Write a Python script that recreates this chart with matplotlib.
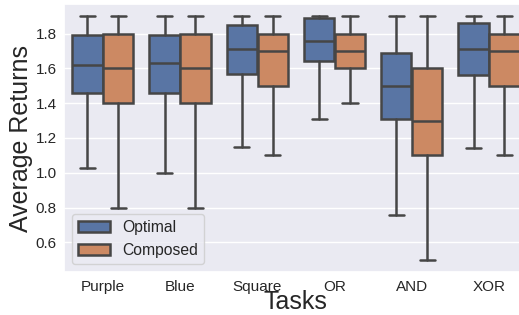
"""Box plot of average returns per task: optimal vs composed policies."""
import matplotlib

matplotlib.use("Agg")
import matplotlib.patches as mpatches  # noqa: E402
import matplotlib.pyplot as plt  # noqa: E402
import numpy as np  # noqa: E402
import seaborn as sns  # noqa: E402

tasks = ["Purple", "Blue", "Square", "OR", "AND", "XOR"]
methods = ["Optimal", "Composed"]

# box statistics (per task)
opt_lo = [1.03, 1.00, 1.15, 1.31, 0.76, 1.14]
opt_q1 = [1.46, 1.46, 1.57, 1.64, 1.31, 1.56]
opt_med = [1.62, 1.63, 1.71, 1.76, 1.50, 1.71]
opt_q3 = [1.79, 1.79, 1.85, 1.89, 1.69, 1.86]
opt_hi = [1.90, 1.90, 1.90, 1.90, 1.90, 1.90]

comp_lo = [0.80, 0.80, 1.10, 1.40, 0.50, 1.10]
comp_q1 = [1.40, 1.40, 1.50, 1.60, 1.10, 1.50]
comp_med = [1.60, 1.60, 1.70, 1.70, 1.30, 1.70]
comp_q3 = [1.80, 1.80, 1.80, 1.80, 1.60, 1.80]
comp_hi = [1.90, 1.90, 1.90, 1.90, 1.90, 1.90]

sns.set_theme(style="darkgrid")
plt.rcParams["font.family"] = ["Liberation Sans", "DejaVu Sans"]

pal = sns.color_palette("deep")
fills = [sns.desaturate(pal[0], 0.75), sns.desaturate(pal[1], 0.75)]
gray = "#464646"
lw = 1.8

fig = plt.figure(figsize=(5.19, 3.15), dpi=100)
W, H = 519, 315
ax = fig.add_axes([64.2 / W, (H - 272) / H, (527.6 - 64.2) / W, (272 - 4) / H])


def stats(lo, q1, med, q3, hi):
    return [dict(whislo=a, q1=b, med=c, q3=d, whishi=e, fliers=[])
            for a, b, c, d, e in zip(lo, q1, med, q3, hi)]


x = np.arange(len(tasks))
groups = [stats(opt_lo, opt_q1, opt_med, opt_q3, opt_hi),
          stats(comp_lo, comp_q1, comp_med, comp_q3, comp_hi)]
offsets = [-0.2, 0.2]
for st, off, fc in zip(groups, offsets, fills):
    ax.bxp(st, positions=x + off, widths=0.392, capwidths=0.196,
           patch_artist=True, showfliers=False, manage_ticks=False,
           boxprops=dict(facecolor=fc, edgecolor=gray, linewidth=lw),
           whiskerprops=dict(color=gray, linewidth=lw),
           capprops=dict(color=gray, linewidth=lw),
           medianprops=dict(color=gray, linewidth=lw))

ax.set_xlim(-0.5, len(tasks) - 0.5)
ax.set_xticks(x)
ax.set_xticklabels(tasks)
ax.xaxis.grid(False)
ax.tick_params(labelsize=11, length=0, pad=5.5)
ax.set_xlabel("Tasks", fontsize=18, labelpad=-2.5)
ax.set_ylabel("Average Returns", fontsize=18, labelpad=2)

handles = [mpatches.Patch(facecolor=fc, edgecolor=gray, linewidth=lw, label=m)
           for fc, m in zip(fills, methods)]
ax.legend(handles=handles, loc="lower left", fontsize=11.3)

fig.savefig("out.png", dpi=100)
